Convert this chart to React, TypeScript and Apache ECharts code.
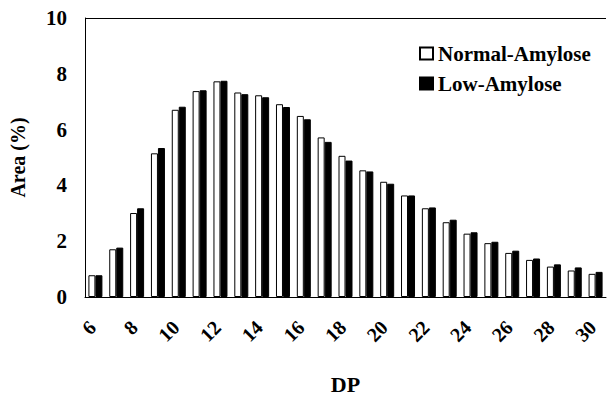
import React, { useEffect, useRef } from "react";
import * as echarts from "echarts";

const categories = ["6","7","8","9","10","11","12","13","14","15","16","17","18","19","20","21","22","23","24","25","26","27","28","29","30"];
const normalAmylose = [0.78,1.71,3.01,5.15,6.71,7.38,7.73,7.33,7.23,6.91,6.49,5.72,5.06,4.54,4.13,3.64,3.18,2.68,2.27,1.93,1.58,1.33,1.09,0.95,0.83];
const lowAmylose = [0.78,1.77,3.18,5.34,6.82,7.41,7.75,7.27,7.16,6.81,6.37,5.56,4.89,4.50,4.06,3.64,3.21,2.77,2.32,1.98,1.66,1.38,1.17,1.06,0.90];
const xTickLabels = ["6","8","10","12","14","16","18","20","22","24","26","28","30"];
const seriesNames = ["Normal-Amylose", "Low-Amylose"];

const FONT = "'Liberation Serif', 'Times New Roman', serif";

export default function App() {
  const ref = useRef<HTMLDivElement>(null);
  useEffect(() => {
    if (!ref.current) return;
    const chart = echarts.init(ref.current, undefined, { renderer: "svg" });
    chart.setOption({
      animation: false,
      backgroundColor: "#ffffff",
      textStyle: { fontFamily: FONT },
      grid: { left: 85, right: 1, top: 18, bottom: 86, containLabel: false },
      legend: {
        orient: "vertical",
        left: 414,
        top: 38,
        itemWidth: 13,
        itemHeight: 12,
        itemGap: 9,
        icon: "rect",
        data: seriesNames,
        textStyle: { fontFamily: FONT, fontWeight: "bold", fontSize: 21, color: "#000", lineHeight: 21 },
      },
      xAxis: {
        type: "category",
        data: categories,
        name: "DP",
        nameLocation: "middle",
        nameGap: 76,
        nameTextStyle: { fontFamily: FONT, fontWeight: "bold", fontSize: 22, color: "#000" },
        axisLine: { show: true, lineStyle: { color: "#000", width: 1 } },
        axisTick: { show: false },
        axisLabel: { show: false },
        splitLine: { show: false },
      },
      yAxis: {
        type: "value",
        min: 0,
        max: 10,
        interval: 2,
        name: "Area (%)",
        nameLocation: "middle",
        nameGap: 57,
        nameRotate: 90,
        nameTextStyle: { fontFamily: FONT, fontWeight: "bold", fontSize: 20, color: "#000" },
        axisLine: { show: true, lineStyle: { color: "#000", width: 1 } },
        axisTick: { show: false },
        axisLabel: { margin: 18, fontFamily: FONT, fontWeight: "bold", fontSize: 21, color: "#000" },
        splitLine: { show: false },
      },
      series: [
        {
          name: seriesNames[0],
          type: "bar",
          data: normalAmylose,
          barWidth: 7,
          barGap: "0%",
          itemStyle: { color: "#ffffff", borderColor: "#000", borderWidth: 1 },
          markLine: {
            silent: true,
            symbol: "none",
            label: { show: false },
            lineStyle: { color: "#000", width: 1, type: "solid" },
            data: [{ yAxis: 10 }],
          },
        },
        {
          name: seriesNames[1],
          type: "bar",
          data: lowAmylose,
          barWidth: 7,
          barGap: "0%",
          itemStyle: { color: "#000000", borderColor: "#000", borderWidth: 1 },
        },
        {
          type: "custom",
          silent: true,
          clip: false,
          z: 10,
          data: xTickLabels.map((l) => [l, 0]),
          renderItem: (params: any, api: any) => {
            const p = api.coord([api.value(0), 0]);
            return {
              type: "text",
              x: p[0] - 3,
              y: p[1] + 27,
              rotation: Math.PI / 4,
              style: {
                text: xTickLabels[params.dataIndex],
                fill: "#000",
                fontFamily: FONT,
                fontWeight: "bold",
                fontSize: 20,
                align: "right",
                verticalAlign: "middle",
              },
            };
          },
        },
      ],
    });
    return () => chart.dispose();
  }, []);
  return <div ref={ref} style={{ position: "absolute", left: 0, top: 0, width: 607, height: 400 }} />;
}
